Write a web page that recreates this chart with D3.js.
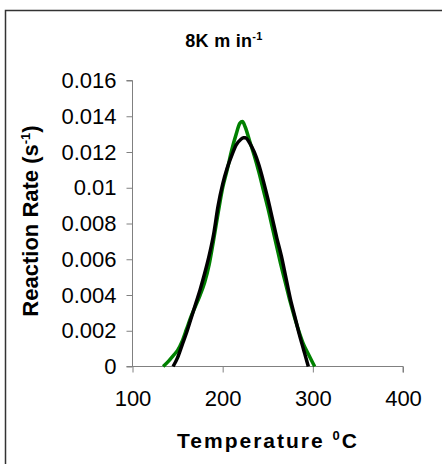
<!DOCTYPE html>
<html>
<head>
<meta charset="utf-8">
<script src="https://cdn.jsdelivr.net/npm/d3@7/dist/d3.min.js"></script>
<style>
  html, body { margin: 0; padding: 0; background: #fff; }
  svg { display: block; font-family: Arial, "Liberation Sans", sans-serif; }
</style>
</head>
<body>
<svg id="chart" width="442" height="464"></svg>
<script>
// Reaction rate vs temperature at a heating rate of 8 K/min
const xTicks = [100, 200, 300, 400];
const yTicks = [0, 0.002, 0.004, 0.006, 0.008, 0.01, 0.012, 0.014, 0.016];
const yTickLabels = ["0", "0.002", "0.004", "0.006", "0.008", "0.01", "0.012", "0.014", "0.016"];

// Experimental curve (green)
const expTemp = [134, 140, 145, 150, 155, 160, 165, 170, 175, 180, 185, 190, 195, 200, 205, 210,
                 215, 219, 222, 225, 230, 235, 240, 245, 250, 255, 260, 265, 270, 275, 280, 285,
                 290, 295, 300, 302];
const expRate = [0, 0.0003, 0.0006, 0.0009, 0.0014, 0.0021, 0.0028, 0.0034, 0.0040, 0.0047, 0.0057,
                 0.0071, 0.0086, 0.0100, 0.0110, 0.0121, 0.0130, 0.0136, 0.0137, 0.0134, 0.0126,
                 0.0118, 0.0109, 0.0099, 0.0089, 0.0078, 0.0067, 0.0056, 0.0046, 0.0036, 0.0027,
                 0.0019, 0.0012, 0.0007, 0.0002, 0];

// Model curve (black)
const modTemp = [145, 150, 155, 160, 165, 170, 175, 180, 185, 190, 195, 200, 205, 210, 215, 220,
                 223, 225, 230, 235, 240, 245, 250, 255, 260, 265, 270, 275, 280, 285, 290, 295];
const modRate = [0, 0.0005, 0.0012, 0.0019, 0.0027, 0.0035, 0.0043, 0.0052, 0.0062, 0.0074, 0.0090,
                 0.0102, 0.0111, 0.0118, 0.0124, 0.0127, 0.0128, 0.0128, 0.0125, 0.0120, 0.0113,
                 0.0104, 0.0094, 0.0083, 0.0072, 0.0062, 0.0050, 0.0038, 0.0028, 0.0018, 0.0009, 0];

const svg = d3.select("#chart");
const plot = { left: 132.5, right: 403, top: 80.5, bottom: 366.5 };

// Outer chart frame
svg.append("rect")
  .attr("x", 5.5).attr("y", 10.5)
  .attr("width", 460).attr("height", 470)
  .attr("fill", "none").attr("stroke", "#333").attr("stroke-width", 1.5);

const x = d3.scaleLinear().domain([100, 400]).range([plot.left, plot.right]);
const y = d3.scaleLinear().domain([0, 0.016]).range([plot.bottom, plot.top]);

const axisColor = "#808080";
const tickFont = 22;

// Y axis
const yAxis = svg.append("g")
  .attr("transform", `translate(${plot.left},0)`)
  .call(d3.axisLeft(y).tickValues(yTicks).tickSize(6).tickPadding(10)
    .tickFormat((d, i) => yTickLabels[i]));
yAxis.select(".domain").attr("stroke", axisColor).attr("d", `M-6,${plot.top}H0V${plot.bottom}`);
yAxis.selectAll(".tick line").attr("stroke", axisColor);
yAxis.selectAll(".tick text").attr("font-size", tickFont).attr("fill", "#000")
  .attr("font-family", "Arial, 'Liberation Sans', sans-serif");

// X axis
const xAxis = svg.append("g")
  .attr("transform", `translate(0,${plot.bottom})`)
  .call(d3.axisBottom(x).tickValues(xTicks).tickSize(6).tickPadding(18)
    .tickFormat(d3.format("d")));
xAxis.select(".domain").attr("stroke", axisColor).attr("d", `M${plot.left - 6},0H${plot.right}V6`);
xAxis.selectAll(".tick line").attr("stroke", axisColor);
xAxis.selectAll(".tick text").attr("font-size", tickFont).attr("fill", "#000")
  .attr("font-family", "Arial, 'Liberation Sans', sans-serif");

// Curves
const line = d3.line().x(d => x(d[0])).y(d => y(d[1])).curve(d3.curveMonotoneX);
const expData = expTemp.map((t, i) => [t, expRate[i]]);
const modData = modTemp.map((t, i) => [t, modRate[i]]);

svg.append("path").datum(expData)
  .attr("d", line).attr("fill", "none")
  .attr("stroke", "#008000").attr("stroke-width", 3.5).attr("stroke-linejoin", "round");
svg.append("path").datum(modData)
  .attr("d", line).attr("fill", "none")
  .attr("stroke", "#000").attr("stroke-width", 3.5).attr("stroke-linejoin", "round");

// Chart title
const title = svg.append("text")
  .attr("x", 224).attr("y", 47).attr("text-anchor", "middle")
  .attr("font-size", 18).attr("font-weight", "bold").attr("letter-spacing", 0.3);
title.append("tspan").text("8K m in");
title.append("tspan").attr("font-size", 11).attr("dy", -7).text("-1");

// X axis title
const xTitle = svg.append("text")
  .attr("x", 268).attr("y", 448).attr("text-anchor", "middle")
  .attr("font-size", 21).attr("font-weight", "bold").attr("letter-spacing", 2);
xTitle.append("tspan").text("Temperature ");
xTitle.append("tspan").attr("font-size", 13).attr("dy", -8).text("0");
xTitle.append("tspan").attr("dy", 8).text("C");

// Y axis title
const yTitle = svg.append("text")
  .attr("transform", "translate(38,221) rotate(-90)")
  .attr("text-anchor", "middle")
  .attr("font-size", 22).attr("font-weight", "bold");
yTitle.append("tspan").text("Reaction Rate (s");
yTitle.append("tspan").attr("font-size", 13).attr("dy", -8).text("-1");
yTitle.append("tspan").attr("dy", 8).text(")");
</script>
</body>
</html>
